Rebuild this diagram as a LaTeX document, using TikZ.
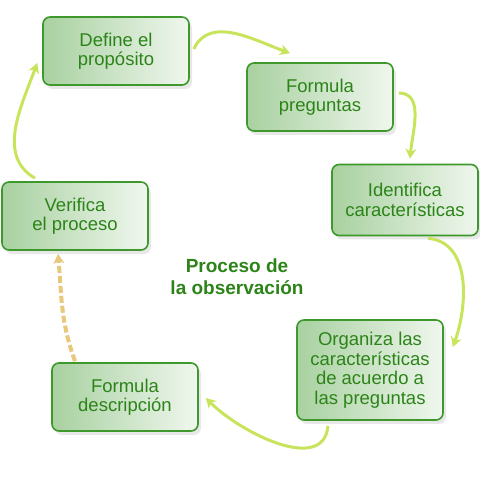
\documentclass[tikz,border=0pt]{standalone}
\usepackage{fontspec}
\setmainfont{Liberation Sans}
\usetikzlibrary{arrows.meta,shadows,positioning}
\definecolor{boxGreen}{RGB}{62,152,44}
\definecolor{textGreen}{RGB}{44,132,24}
\definecolor{arrowLime}{RGB}{200,228,92}
\definecolor{arrowTan}{RGB}{232,200,122}
\colorlet{fillLeft}{boxGreen!45!white}
\colorlet{fillRight}{boxGreen!8!white}
\tikzset{>={Stealth[length=10pt,width=11pt]}}
\tikzset{
  stepbox/.style={draw=boxGreen,line width=1.6pt,rounded corners=7pt,
    left color=fillLeft,right color=fillRight,text=textGreen,align=center,
    minimum width=146pt,minimum height=68pt,inner sep=2pt,
    font=\fontsize{18.5}{19.5}\selectfont,
    drop shadow={opacity=0.18,shadow xshift=3pt,shadow yshift=-4pt}},
  flow/.style={->,arrowLime,line width=3pt},
  backflow/.style={->,arrowTan,line width=4pt,dash pattern=on 7pt off 3pt},
}

\begin{document}
\begin{tikzpicture}[x=1pt,y=1pt]
      \useasboundingbox (0,0) rectangle (480,480);

      \node [stepbox] (define) at (116,429) {Define el\\propósito};
      \node [stepbox] (preg) at (320,383) {Formula\\preguntas};
      \node [stepbox,minimum height=71pt] (ident) at (405,280) {Identifica\\características};
      \node [stepbox,minimum height=100pt] (organiza) at (370,110) {Organiza las\\características\\de acuerdo a\\las preguntas};
      \node [stepbox] (descrip) at (125,83) {Formula\\descripción};
      \node [stepbox] (verifica) at (75,264) {Verifica\\el proceso};

      \node [text=textGreen,align=center,font=\bfseries\fontsize{19}{22}\selectfont] (titulo) at (237,203) {Proceso de\\la observación};

      % cycle
      \draw [flow] ([shift={(4,2)}]define.east) to[out=65,in=160] ([shift={(-30,9)}]preg.north);
      \draw [flow] ([shift={(5,4)}]preg.east) to[out=0,in=85] ([shift={(5,5)}]ident.north);
      \draw [flow] ([shift={(23,-2)}]ident.south) to[out=-5,in=70] ([shift={(9,23)}]organiza.east);
      \draw [flow] ([shift={(-42,-5)}]organiza.south) to[out=-95,in=-45] ([shift={(7,-1)}]descrip.east);
      \draw [backflow] ([shift={(-50,1)}]descrip.north) to[out=110,in=-85] ([shift={(-17,-3)}]verifica.south);
      \draw [flow] ([shift={(-40,3)}]verifica.north) to[out=150,in=-110] ([shift={(-5,-12)}]define.west);
    \end{tikzpicture}
\end{document}
